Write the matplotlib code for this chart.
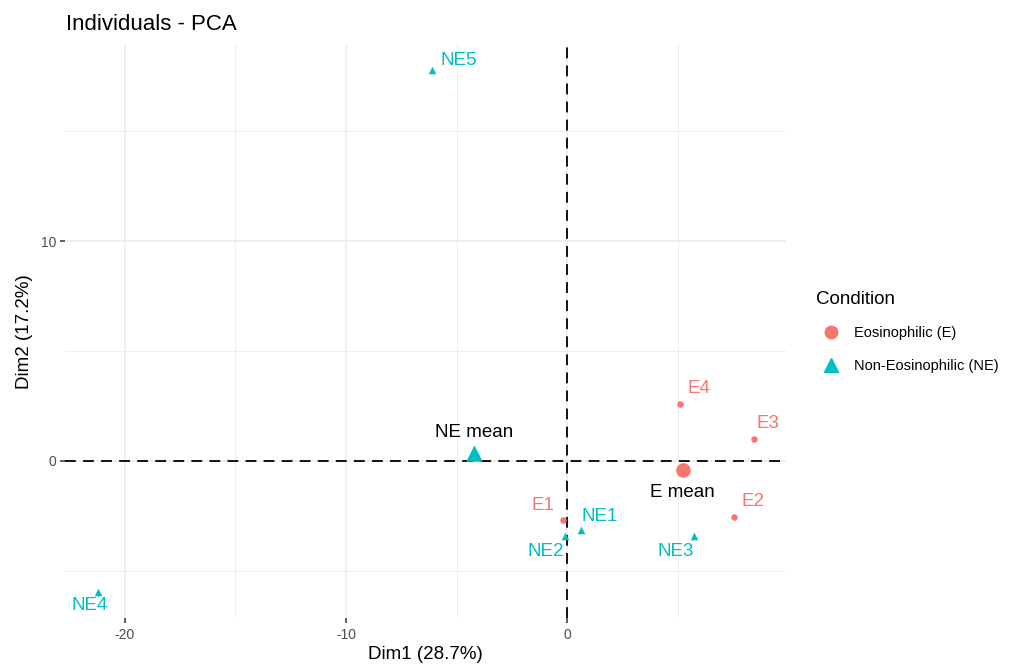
import matplotlib
matplotlib.use("Agg")
import matplotlib.pyplot as plt
from matplotlib.lines import Line2D

plt.rcParams['font.family'] = ['Liberation Sans', 'DejaVu Sans']
plt.rcParams['axes.unicode_minus'] = False

# Data: PCA coordinates
e_names = ["E1", "E2", "E3", "E4"]
e_dim1 = [-0.18, 7.56, 8.46, 5.11]
e_dim2 = [-2.68, -2.55, 1.00, 2.59]

ne_names = ["NE1", "NE2", "NE3", "NE4", "NE5"]
ne_dim1 = [0.63, -0.09, 5.75, -21.22, -6.11]
ne_dim2 = [-3.14, -3.41, -3.41, -5.95, 17.77]

mean_names = ["E mean", "NE mean"]
mean_dim1 = [sum(e_dim1) / len(e_dim1), sum(ne_dim1) / len(ne_dim1)]
mean_dim2 = [sum(e_dim2) / len(e_dim2), sum(ne_dim2) / len(ne_dim2)]

legend_labels = ["Eosinophilic (E)", "Non-Eosinophilic (NE)"]

col_e = "#F8766D"
col_ne = "#00BFC4"

# label offsets in pixels (repel-like placement)
e_off = [(-20, 14), (19, 16), (14, 15), (19, 15)]
ne_off = [(19, 14), (-19, -16), (-18, -16), (-8, -14), (27, 10)]
mean_off = [(0, -23), (0, 20)]

fig = plt.figure(figsize=(10.1, 6.7), dpi=100)
ax = fig.add_axes([0.0644, 0.0776, 0.7139, 0.8552])

ax.set_xlim(-22.71, 9.91)
ax.set_ylim(-7.14, 18.91)

# grid
for v in [-20, -10, 0]:
    ax.axvline(v, color="#EBEBEB", lw=1.1, zorder=0)
for v in [-15, -5, 5]:
    ax.axvline(v, color="#EBEBEB", lw=0.6, zorder=0)
for v in [0, 10]:
    ax.axhline(v, color="#EBEBEB", lw=1.1, zorder=0)
for v in [-5, 5, 15]:
    ax.axhline(v, color="#EBEBEB", lw=0.6, zorder=0)

ax.axhline(0, color="black", lw=1.3, ls=(0, (6, 4)), zorder=1)
ax.axvline(0, color="black", lw=1.3, ls=(0, (6, 4)), zorder=1)

ax.scatter(e_dim1, e_dim2, s=22, color=col_e, marker="o", lw=0, zorder=3)
ax.scatter(ne_dim1, ne_dim2, s=30, color=col_ne, marker="^", lw=0, zorder=3)
ax.scatter(mean_dim1[0], mean_dim2[0], s=110, color=col_e, marker="o", lw=0, zorder=3)
ax.scatter(mean_dim1[1], mean_dim2[1], s=140, color=col_ne, marker="^", lw=0, zorder=3)

for n, x, y, o in zip(e_names, e_dim1, e_dim2, e_off):
    ax.annotate(n, (x, y), xytext=o, textcoords="offset pixels",
                ha="center", va="center", color=col_e, fontsize=13.5)
for n, x, y, o in zip(ne_names, ne_dim1, ne_dim2, ne_off):
    ax.annotate(n, (x, y), xytext=o, textcoords="offset pixels",
                ha="center", va="center", color=col_ne, fontsize=13.5)
for n, x, y, o in zip(mean_names, mean_dim1, mean_dim2, mean_off):
    ax.annotate(n, (x, y), xytext=o, textcoords="offset pixels",
                ha="center", va="center", color="black", fontsize=13.5)

ax.set_xticks([-20, -10, 0])
ax.set_yticks([0, 10])
ax.tick_params(axis="both", colors="#333333", labelsize=10, length=3.6, width=1.1,
               labelcolor="#4D4D4D", pad=2.5)
ax.tick_params(axis="x", pad=3.5)
for s in ax.spines.values():
    s.set_visible(False)

ax.set_xlabel("Dim1 (28.7%)", fontsize=13.5, labelpad=3)
ax.set_ylabel("Dim2 (17.2%)", fontsize=13.5, labelpad=6)
fig.text(0.065, 0.963, "Individuals - PCA", fontsize=16, va="center", ha="left")

handles = [Line2D([], [], marker="o", color=col_e, ls="", markersize=9),
           Line2D([], [], marker="^", color=col_ne, ls="", markersize=10)]
leg = fig.legend(handles, legend_labels, title="Condition", loc="upper left",
                 bbox_to_anchor=(0.795, 0.585), frameon=False, fontsize=10.5,
                 title_fontsize=13.5, handletextpad=0.6, labelspacing=1.25)
leg._legend_box.align = "left"

fig.savefig("out.png", dpi=100)
